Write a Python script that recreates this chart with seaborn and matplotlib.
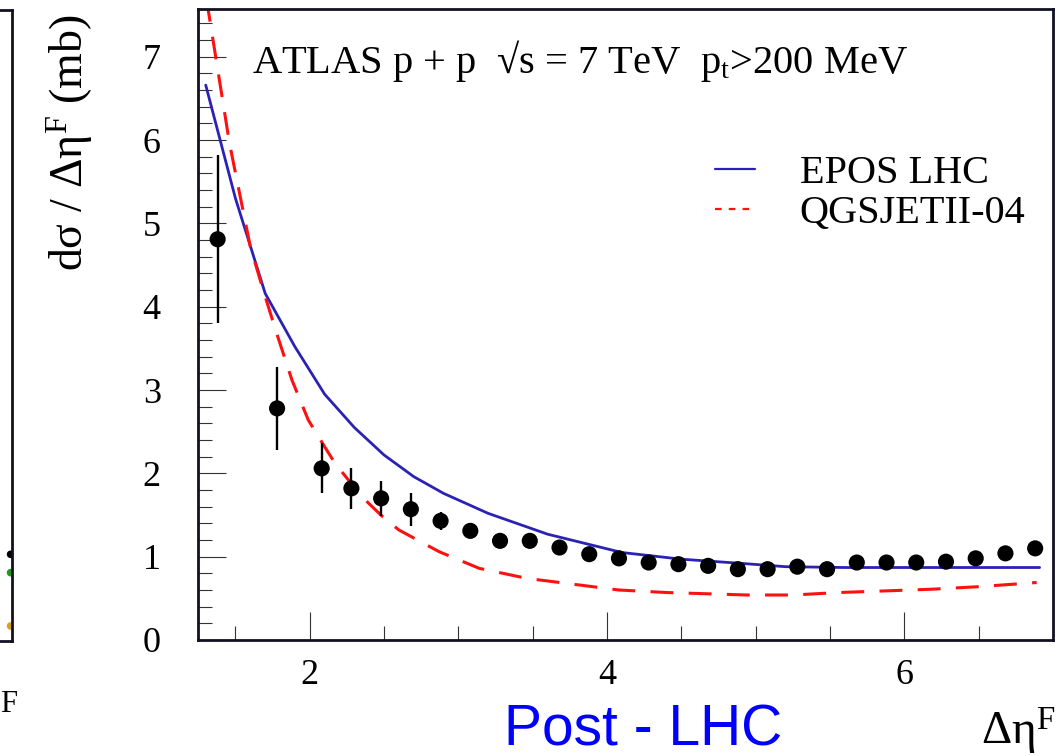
import numpy as np
import matplotlib
matplotlib.use('Agg')
import matplotlib.pyplot as plt
from matplotlib.lines import Line2D
import seaborn as sns

# ── data ─────────────────────────────────────────────────────────
eta_data = [1.38, 1.78, 2.08, 2.28, 2.48, 2.68, 2.88, 3.08, 3.28, 3.48,
            3.68, 3.88, 4.08, 4.28, 4.48, 4.68, 4.88, 5.08, 5.28, 5.48,
            5.68, 5.88, 6.08, 6.28, 6.48, 6.68, 6.88]
xsec_data = [4.81, 2.78, 2.06, 1.82, 1.70, 1.57, 1.43, 1.31, 1.19, 1.19,
             1.11, 1.03, 0.98, 0.93, 0.91, 0.89, 0.85, 0.85, 0.88, 0.85,
             0.93, 0.93, 0.93, 0.94, 0.98, 1.04, 1.10]
xsec_err = [1.01, 0.50, 0.30, 0.25, 0.21, 0.20, 0.11, 0.07, 0.05, 0.05,
            0.04, 0.04, 0.04, 0.04, 0.04, 0.04, 0.04, 0.04, 0.04, 0.04,
            0.04, 0.04, 0.04, 0.04, 0.04, 0.04, 0.04]

eta_epos = [1.30, 1.50, 1.70, 1.90, 2.10, 2.30, 2.50, 2.70, 2.90, 3.20,
            3.60, 4.10, 4.50, 4.90, 5.20, 5.60, 6.00, 6.50, 6.91]
xsec_epos = [6.66, 5.30, 4.16, 3.52, 2.95, 2.55, 2.22, 1.96, 1.76, 1.52,
             1.27, 1.05, 0.97, 0.92, 0.88, 0.87, 0.87, 0.87, 0.87]

eta_qgs = [1.30, 1.46, 1.60, 1.69, 1.77, 1.88, 1.99, 2.10, 2.17, 2.35,
           2.49, 2.60, 2.87, 3.14, 3.46, 3.77, 4.08, 4.40, 4.94, 5.25,
           5.56, 5.88, 6.19, 6.50, 6.89]
xsec_qgs = [7.75, 5.96, 4.72, 4.18, 3.72, 3.12, 2.64, 2.32, 2.12, 1.72,
            1.48, 1.32, 1.06, 0.86, 0.74, 0.67, 0.60, 0.57, 0.54, 0.54,
            0.57, 0.59, 0.61, 0.64, 0.69]

# bits of the neighbouring panel that are cut off on the left
left_y = [1.04, 0.82, 0.18]
left_colors = ['black', '#1a9a1a', '#d9a020']

model_labels = ['EPOS LHC', 'QGSJETII-04']
title_txt = 'ATLAS p + p  √s = 7 TeV  p$_{\\mathregular{t}}$>200 MeV'

EPOS_C = '#2b22b5'
QGS_C = '#ff1010'

# ── style ─────────────────────────────────────────────────────────
sns.set_theme(style='ticks')
plt.rcParams['font.family'] = ['Liberation Serif', 'DejaVu Serif']
plt.rcParams['mathtext.fontset'] = 'custom'
plt.rcParams['mathtext.rm'] = 'Liberation Serif'
plt.rcParams['mathtext.it'] = 'Liberation Serif:italic'
plt.rcParams['text.color'] = 'black'
plt.rcParams['xtick.labelcolor'] = 'black'
plt.rcParams['ytick.labelcolor'] = 'black'

W, H = 1060, 756
fig = plt.figure(figsize=(W / 100, H / 100), dpi=100)
fig.patch.set_facecolor('white')

x0, x1, y0, y1 = 198.3, 1053, 9.3, 640
ax = fig.add_axes([x0 / W, 1 - y1 / H, (x1 - x0) / W, (y1 - y0) / H])

sns.lineplot(x=eta_epos, y=xsec_epos, ax=ax, color=EPOS_C, lw=2.0)
sns.lineplot(x=eta_qgs, y=xsec_qgs, ax=ax, color=QGS_C, lw=2.2,
             ls=(0, (7.5, 5)))
ax.errorbar(eta_data, xsec_data, yerr=xsec_err, fmt='none',
            ecolor='black', elinewidth=1.7, capsize=0, zorder=4)
sns.scatterplot(x=eta_data, y=xsec_data, ax=ax, color='black', s=135,
                edgecolor='none', zorder=5, legend=False)

ax.set_xlim(1.25, 7.0)
ax.set_ylim(0, 7.57)
ax.set_xticks([2, 4, 6])
ax.set_xticks(np.arange(1.5, 7.0, 0.5), minor=True)
ax.set_yticks(range(0, 8))
ax.set_yticks(np.arange(0, 7.57, 0.2), minor=True)
ax.tick_params(which='both', direction='in', top=False, right=False,
               width=0.8, color='#333333', labelsize=26)
ax.tick_params(which='major', length=20)
ax.tick_params(which='minor', length=10)
ax.tick_params(axis='y', pad=27)
ax.tick_params(axis='x', pad=14)
for s in ax.spines.values():
    s.set_linewidth(2.0)
    s.set_color('#111122')
ax.set_xlabel('')
ax.set_ylabel('')

ax.text(0.063, 0.899, title_txt, transform=ax.transAxes, fontsize=29.2,
        va='baseline', ha='left')

handles = [Line2D([], [], color=EPOS_C, lw=1.6),
           Line2D([], [], color=QGS_C, lw=1.6, ls=(0, (3, 3.2)))]
ax.legend(handles, model_labels, loc='center left',
          bbox_to_anchor=(0.6045, 0.708), frameon=False, fontsize=29,
          handlelength=1.0, handletextpad=1.1, labelspacing=0.05,
          borderpad=0, borderaxespad=0)

fig.text(70 / W, 1 - 14 / H, 'dσ / Δη$^{\\mathregular{F}}$ (mb)',
         rotation=90, ha='center', va='top', fontsize=33)
fig.text(1056 / W, 1 - 745 / H, 'Δη$^{\\mathregular{F}}$', ha='right',
         va='baseline', fontsize=34)
fig.text(643 / W, 1 - 745 / H, 'Post - LHC', ha='center', va='baseline',
         fontsize=41, color='#0000ff', family=['Liberation Sans', 'DejaVu Sans'])
fig.text(0.0, 1 - 712 / H, 'F', ha='left', va='baseline', fontsize=22)

# neighbouring panel, mostly outside the picture
axl = fig.add_axes([-0.2, 1 - 641 / H, 0.2 + 11.7 / W, (641 - 10) / H])
sns.scatterplot(x=[0.995] * 3, y=left_y, hue=left_colors,
                palette=dict(zip(left_colors, left_colors)), s=30,
                edgecolor='none', ax=axl, legend=False)
axl.set_xlim(0, 1)
axl.set_ylim(0, 7.57)
axl.set_xticks([])
axl.set_yticks([])
axl.set_xlabel('')
axl.set_ylabel('')
for s in axl.spines.values():
    s.set_linewidth(2.0)
    s.set_color('#111122')

fig.savefig('out.png', dpi=100)
